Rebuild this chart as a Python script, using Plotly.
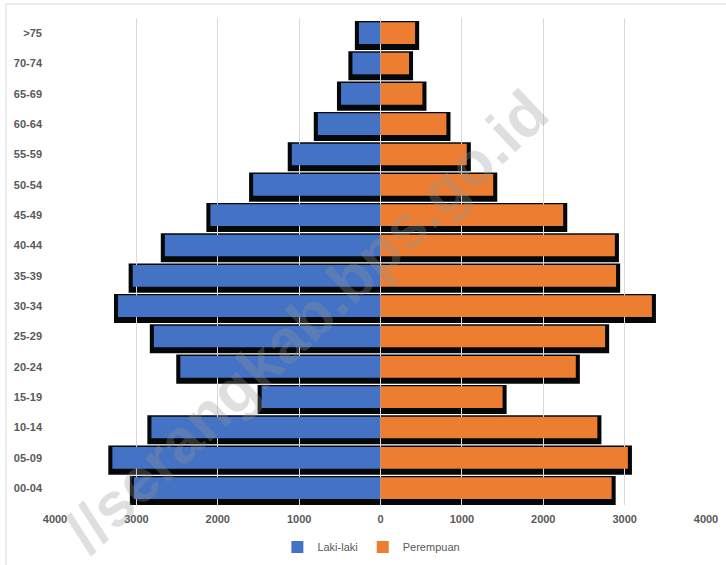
import plotly.graph_objects as go

# ---- data ----
age_groups = ["00-04", "05-09", "10-14", "15-19", "20-24", "25-29", "30-34", "35-39",
              "40-44", "45-49", "50-54", "55-59", "60-64", "65-69", "70-74", ">75"]
laki_laki = [3030, 3295, 2815, 1460, 2460, 2785, 3225, 3045,
             2650, 2090, 1565, 1090, 770, 485, 345, 265]
perempuan = [2840, 3040, 2665, 1500, 2400, 2760, 3335, 2895,
             2880, 2245, 1385, 1060, 810, 515, 350, 425]
x_tickvals = [-4000, -3000, -2000, -1000, 0, 1000, 2000, 3000, 4000]
x_ticktext = ["4000", "3000", "2000", "1000", "0", "1000", "2000", "3000", "4000"]

BLUE = "#4472C4"
ORANGE = "#ED7D31"
TEXT = "#595959"
FONT = "Liberation Sans, Arial, sans-serif"

fig = go.Figure()
fig.add_trace(go.Bar(
    y=age_groups, x=[-v for v in laki_laki], orientation="h", name="Laki-laki",
    marker=dict(color=BLUE, line=dict(width=0)),
    customdata=laki_laki, hovertemplate="%{y}: %{customdata}<extra>Laki-laki</extra>",
))
fig.add_trace(go.Bar(
    y=age_groups, x=perempuan, orientation="h", name="Perempuan",
    marker=dict(color=ORANGE, line=dict(width=0)),
    hovertemplate="%{y}: %{x}<extra>Perempuan</extra>",
))

# drop shadow behind each pair of bars (derived from the data)
shapes = []
pad = 50
for i, (m, f) in enumerate(zip(laki_laki, perempuan)):
    shapes.append(dict(
        type="rect", xref="x", yref="y", layer="below",
        x0=-m - pad, x1=f + pad, y0=i - 0.555, y1=i + 0.405,
        fillcolor="#050808", line=dict(width=0),
    ))
# chart border
shapes.append(dict(
    type="rect", xref="paper", yref="paper", layer="below",
    x0=-0.0753, x1=1.2, y0=-0.3, y1=1.0287,
    fillcolor="rgba(0,0,0,0)", line=dict(color="#d9d9d9", width=1),
))

fig.update_layout(
    width=726, height=565, autosize=False,
    margin=dict(l=55, r=20, t=18, b=60, pad=0, autoexpand=False),
    paper_bgcolor="white", plot_bgcolor="white",
    barmode="relative", bargap=0.287,
    font=dict(family=FONT, color=TEXT, size=11),
    shapes=shapes,
    xaxis=dict(
        range=[-4000, 4000], tickvals=x_tickvals, ticktext=x_ticktext,
        showgrid=True, gridcolor="#d9d9d9", gridwidth=1,
        zeroline=False, showline=False, ticks="",
        tickfont=dict(family=FONT, size=11, color=TEXT, weight="bold"),
        ticklabelstandoff=6, fixedrange=True, automargin=False,
    ),
    yaxis=dict(
        type="category", showgrid=False, zeroline=False, showline=False,
        ticks="", ticklabelstandoff=12, automargin=False,
        tickfont=dict(family=FONT, size=11, color=TEXT, weight="bold"),
        fixedrange=True,
    ),
    legend=dict(
        orientation="h", x=0.486, xanchor="center", y=-0.086, yanchor="middle",
        font=dict(family=FONT, size=11, color=TEXT), itemwidth=30,
        traceorder="normal", bgcolor="rgba(0,0,0,0)",
    ),
    annotations=[dict(
        text="//serangkab.bps.go.id", xref="paper", yref="paper",
        x=(306 - 55) / 651, y=(505 - 322) / 487, xanchor="center", yanchor="middle",
        showarrow=False, textangle=-43.5,
        font=dict(family=FONT, size=62, color="rgba(150,150,150,0.3)", weight="bold"),
    )],
)

fig.write_html("out.html", config={"displayModeBar": False},
               post_script="document.body.style.margin='0';")
